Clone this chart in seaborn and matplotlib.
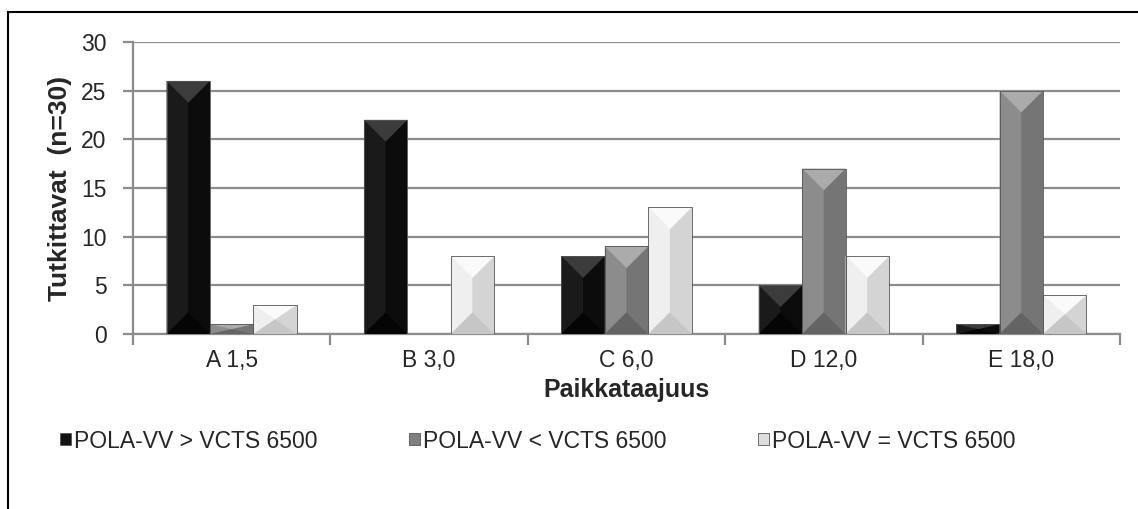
import matplotlib
matplotlib.use("Agg")
import matplotlib.pyplot as plt
from matplotlib.patches import Polygon, Patch, Rectangle
import numpy as np
import pandas as pd
import seaborn as sns

categories = ["A 1,5", "B 3,0", "C 6,0", "D 12,0", "E 18,0"]
series = ["POLA-VV > VCTS 6500", "POLA-VV < VCTS 6500", "POLA-VV = VCTS 6500"]
vals_gt = [26, 22, 8, 5, 1]
vals_lt = [1, 0, 9, 17, 25]
vals_eq = [3, 8, 13, 8, 4]

rows = []
for s, vals in zip(series, [vals_gt, vals_lt, vals_eq]):
    for c, v in zip(categories, vals):
        rows.append({"cat": c, "series": s, "val": v})
df = pd.DataFrame(rows)

# base colours + bevel shades (left, right, top, bottom)
base = ["#121212", "#808080", "#dedede"]
shades = [
    ("#1a1a1a", "#0c0c0c", "#3c3c3c", "#050505"),
    ("#8c8c8c", "#757575", "#ababab", "#646464"),
    ("#efefef", "#d4d4d4", "#fafafa", "#c6c6c6"),
]

sns.set_style("white")
plt.rcParams["font.family"] = ["Liberation Sans", "DejaVu Sans"]

fig = plt.figure(figsize=(11.38, 5.09), dpi=100)
W, H = 1138, 509
ax = fig.add_axes([133 / W, 1 - 334 / H, (1120 - 133) / W, (334 - 42) / H])

sns.barplot(data=df, x="cat", y="val", hue="series", palette=base,
            width=0.66, gap=0, ax=ax, legend=False, saturation=1,
            edgecolor="none", linewidth=0)

ax.set_ylim(0, 30)
ax.set_xlim(-0.5, 4.5)
ax.set_yticks(range(0, 31, 5))
ax.yaxis.grid(True, color="#8c8c8c", linewidth=1.6)
ax.set_axisbelow(True)
for sp in ["top", "right"]:
    ax.spines[sp].set_visible(False)
for sp in ["left", "bottom"]:
    ax.spines[sp].set_color("#8c8c8c")
    ax.spines[sp].set_linewidth(1.6)

ax.tick_params(axis="y", length=7, width=1.6, color="#8c8c8c", labelsize=16.5, left=True, pad=12)
ax.set_xticks(range(5))
ax.set_xticklabels(categories)
ax.tick_params(axis="x", length=0, labelsize=16.5, pad=11)
ax.set_xticks(np.arange(-0.5, 5, 1), minor=True)
ax.tick_params(axis="x", which="minor", length=8, width=1.6, color="#8c8c8c", bottom=True)

ax.set_xlabel("Paikkataajuus", fontsize=18, fontweight="bold")
ax.set_ylabel("Tutkittavat  (n=30)", fontsize=19, fontweight="bold")
ax.xaxis.set_label_coords(0.5, -(378 - 334) / 292)
ax.yaxis.set_label_coords(-(133 - 72) / 987, 0.5)

# bevel shading on each bar
fig.canvas.draw()
px_y = ax.transData.transform((0, 1))[1] - ax.transData.transform((0, 0))[1]
px_x = ax.transData.transform((1, 0))[0] - ax.transData.transform((0, 0))[0]
bars = [p for p in ax.patches if isinstance(p, Rectangle)]
n = len(categories)
for i, p in enumerate(bars):
    h = p.get_height()
    if h <= 0:
        continue
    sl, sr, st, sb = shades[i // n]
    x0 = p.get_x()
    w = p.get_width()
    x1 = x0 + w
    xc = x0 + w / 2
    d = (w / 2) * px_x / px_y
    d = min(d, h / 2)
    y0, y1 = 0, h
    polys = [
        ([(x0, y0), (xc, y0 + d), (xc, y1 - d), (x0, y1)], sl),
        ([(x1, y0), (xc, y0 + d), (xc, y1 - d), (x1, y1)], sr),
        ([(x0, y1), (x1, y1), (xc, y1 - d)], st),
        ([(x0, y0), (x1, y0), (xc, y0 + d)], sb),
    ]
    for pts, col in polys:
        ax.add_patch(Polygon(pts, closed=True, facecolor=col, edgecolor="none", zorder=3))
    ax.add_patch(Rectangle((x0, 0), w, h, fill=False, edgecolor="#555555", linewidth=0.6, zorder=4))

handles = [Patch(facecolor=c, edgecolor="#555555", linewidth=0.6) for c in base]
fig.legend(handles, series, loc="center", bbox_to_anchor=(538 / W, 1 - 441 / H), ncol=3,
           frameon=False, fontsize=16.5, handlelength=0.45, handleheight=0.45,
           handletextpad=0.15, columnspacing=4.0)

fig.add_artist(Rectangle((8 / W, -0.2), 1.2, 1 - 12 / H + 0.2, transform=fig.transFigure,
                         fill=False, edgecolor="black", linewidth=1.5))

fig.savefig("out.png", dpi=100)
